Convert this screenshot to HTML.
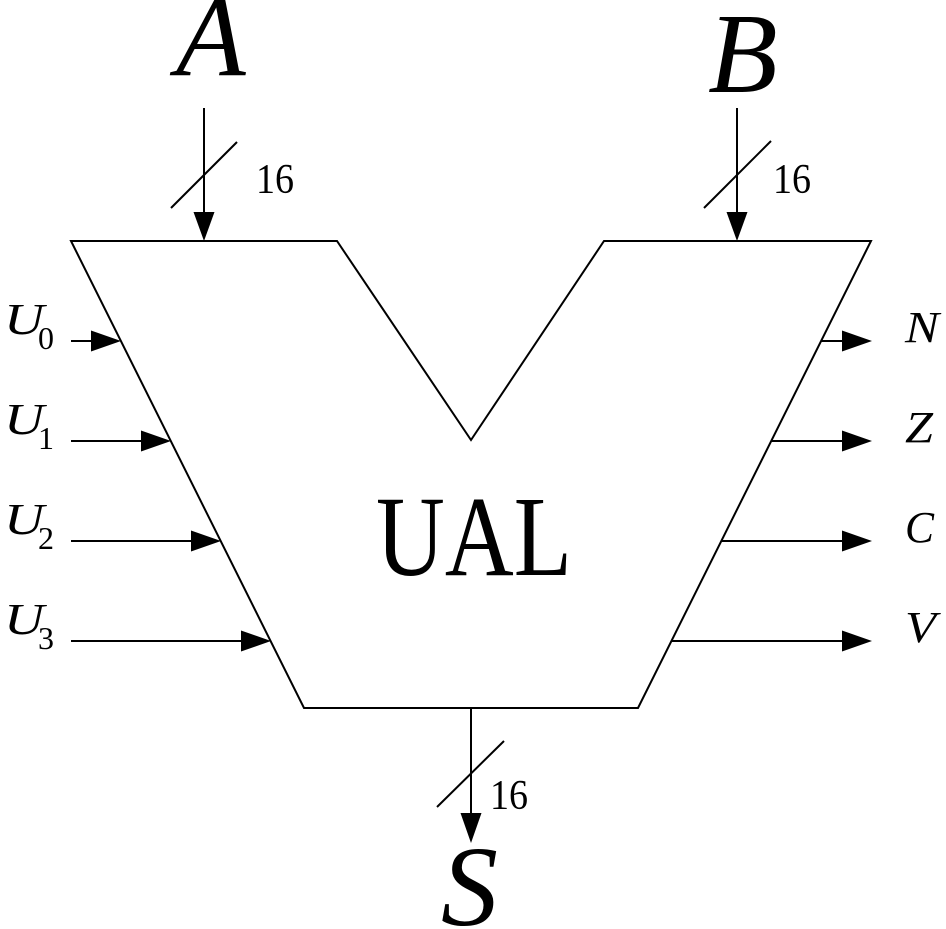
<!DOCTYPE html>
<html>
<head>
<meta charset="utf-8">
<style>
html,body{margin:0;padding:0;background:#fff;}
svg{display:block;}
text{font-family:"Liberation Serif",serif;fill:#000;}
.it{font-style:italic;}
</style>
</head>
<body>
<svg width="946" height="929" viewBox="0 0 946 929" xmlns="http://www.w3.org/2000/svg">
<g fill="none" stroke="#000" stroke-width="2" stroke-linejoin="miter">
  <polygon points="71,241 337,241 471,440 604,241 871,241 638,708 304,708"/>
  <!-- A input -->
  <line x1="204" y1="108" x2="204" y2="215"/>
  <line x1="171" y1="208" x2="237" y2="142"/>
  <!-- B input -->
  <line x1="737" y1="108" x2="737" y2="215"/>
  <line x1="704" y1="208" x2="771" y2="141"/>
  <!-- S output -->
  <line x1="471" y1="708" x2="471" y2="816"/>
  <line x1="437" y1="807" x2="504" y2="741"/>
  <!-- U inputs -->
  <line x1="71" y1="341" x2="95" y2="341"/>
  <line x1="71" y1="441" x2="145" y2="441"/>
  <line x1="71" y1="541" x2="195" y2="541"/>
  <line x1="71" y1="641" x2="245" y2="641"/>
  <!-- flag outputs -->
  <line x1="821" y1="341" x2="846" y2="341"/>
  <line x1="771" y1="441" x2="846" y2="441"/>
  <line x1="721" y1="541" x2="846" y2="541"/>
  <line x1="671" y1="641" x2="846" y2="641"/>
</g>
<g fill="#000" stroke="none">
  <polygon points="193.5,212 214.5,212 204,241"/>
  <polygon points="726.5,212 747.5,212 737,241"/>
  <polygon points="460.5,813 481.5,813 471,843"/>
  <polygon points="91,330.5 91,351.5 121,341"/>
  <polygon points="141,430.5 141,451.5 171,441"/>
  <polygon points="191,530.5 191,551.5 221,541"/>
  <polygon points="241,630.5 241,651.5 271,641"/>
  <polygon points="842,330.5 842,351.5 872,341"/>
  <polygon points="842,430.5 842,451.5 872,441"/>
  <polygon points="842,530.5 842,551.5 872,541"/>
  <polygon points="842,630.5 842,651.5 872,641"/>
</g>
<!-- big labels -->
<text class="it" x="176" y="75" font-size="114">A</text>
<text class="it" x="708" y="92" font-size="114">B</text>
<text class="it" x="441" y="925" font-size="114">S</text>
<text x="376" y="575" font-size="114" textLength="196" lengthAdjust="spacingAndGlyphs">UAL</text>
<!-- bus widths -->
<text x="256" y="193" font-size="42" textLength="38" lengthAdjust="spacingAndGlyphs">16</text>
<text x="773" y="193" font-size="42" textLength="38" lengthAdjust="spacingAndGlyphs">16</text>
<text x="490" y="809" font-size="42" textLength="38" lengthAdjust="spacingAndGlyphs">16</text>
<!-- U labels -->
<text class="it" x="4" y="334" font-size="44" textLength="40" lengthAdjust="spacingAndGlyphs">U</text>
<text x="38" y="349" font-size="32">0</text>
<text class="it" x="4" y="434" font-size="44" textLength="40" lengthAdjust="spacingAndGlyphs">U</text>
<text x="38" y="449" font-size="32">1</text>
<text class="it" x="4" y="534" font-size="44" textLength="40" lengthAdjust="spacingAndGlyphs">U</text>
<text x="38" y="549" font-size="32">2</text>
<text class="it" x="4" y="634" font-size="44" textLength="40" lengthAdjust="spacingAndGlyphs">U</text>
<text x="38" y="649" font-size="32">3</text>
<!-- flag labels -->
<text class="it" x="905" y="342" font-size="44" textLength="34" lengthAdjust="spacingAndGlyphs">N</text>
<text class="it" x="905" y="442" font-size="44" textLength="28" lengthAdjust="spacingAndGlyphs">Z</text>
<text class="it" x="905" y="542" font-size="44" textLength="29" lengthAdjust="spacingAndGlyphs">C</text>
<text class="it" x="905" y="642" font-size="44" textLength="31" lengthAdjust="spacingAndGlyphs">V</text>
</svg>
</body>
</html>
